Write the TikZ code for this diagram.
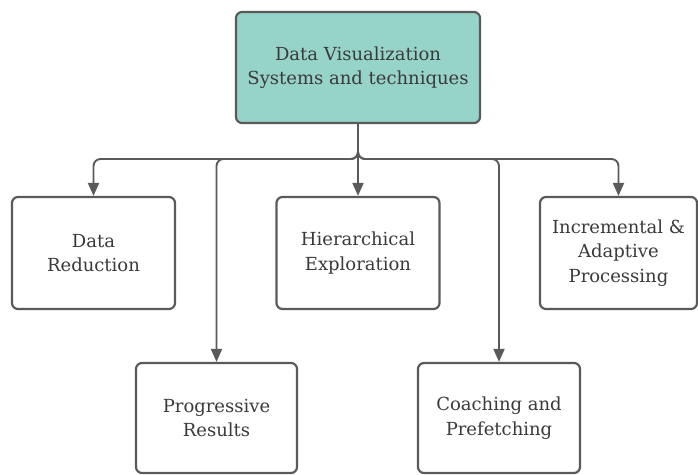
\documentclass[tikz,border=0pt]{standalone}
\usepackage{fontspec}
\setmainfont{DejaVu Serif}
\usetikzlibrary{arrows.meta}
\definecolor{linegray}{HTML}{5A5A5A}
\definecolor{textgray}{HTML}{3A3A3A}
\definecolor{teal1}{HTML}{96D4C9}
\begin{document}
\begin{tikzpicture}[x=1pt,y=-1pt,
  box/.style={draw=linegray, line width=2.2pt, rounded corners=6pt, fill=white, align=center,
    text=textgray, font=\fontsize{18}{24.5}\selectfont, inner sep=0pt},
  conn/.style={draw=linegray, line width=1.9pt, rounded corners=7pt,
    -{Triangle[length=13pt,width=11pt]}}]
\useasboundingbox (0,0) rectangle (698,474);
\node[box, fill=teal1, minimum width=244pt, minimum height=111pt] (top) at (358,67.5)
  {Data Visualization\\Systems and techniques};
\node[box, minimum width=163pt, minimum height=112pt] (dr) at (93.5,253) {Data\\Reduction};
\node[box, minimum width=163pt, minimum height=112pt] (he) at (358,253) {Hierarchical\\Exploration};
\node[box, minimum width=157pt, minimum height=112pt] (ia) at (618.5,253) {Incremental \&\\Adaptive\\Processing};
\node[box, minimum width=161pt, minimum height=110pt] (pr) at (216.5,418) {Progressive\\Results};
\node[box, minimum width=162pt, minimum height=110pt] (co) at (499,418) {Coaching and\\Prefetching};
\coordinate (bus) at (358,159);
\draw[conn] (top.south) -- (bus) -| (dr.north);
\draw[conn] (top.south) -- (bus) -| (ia.north);
\draw[conn] (top.south) -- (bus) -| (pr.north);
\draw[conn] (top.south) -- (bus) -| (co.north);
\draw[conn] (top.south) -- (he.north);
\end{tikzpicture}
\end{document}
